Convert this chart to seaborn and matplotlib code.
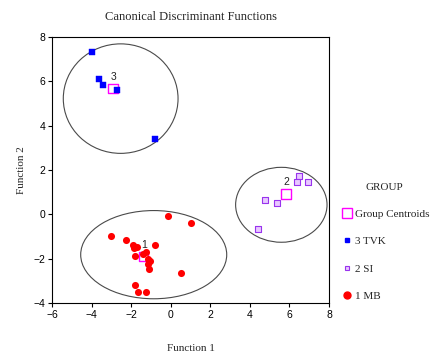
import numpy as np
import pandas as pd
import matplotlib
matplotlib.use("Agg")
import matplotlib.pyplot as plt
import seaborn as sns
from matplotlib.patches import Ellipse
from matplotlib.lines import Line2D

# ---- data ----
mb_x = [-0.13, 1.02, -3.02, -2.25, -1.91, -1.72, -1.85, -0.78, -1.27, -1.39,
        -1.82, -1.14, -1.05, -1.14, -1.09, 0.50, -1.81, -1.66, -1.27]
mb_y = [-0.07, -0.38, -0.96, -1.14, -1.38, -1.46, -1.50, -1.38, -1.68, -1.80,
        -1.86, -2.03, -2.10, -2.25, -2.45, -2.63, -3.20, -3.50, -3.49]
si_x = [6.49, 6.39, 6.93, 4.74, 5.35, 4.39]
si_y = [1.73, 1.45, 1.47, 0.65, 0.50, -0.67]
tvk_x = [-3.96, -3.63, -3.44, -2.72, -0.80]
tvk_y = [7.34, 6.11, 5.85, 5.62, 3.40]

centroid_labels = ["1", "2", "3"]
centroid_x = [-1.39, 5.82, -2.92]
centroid_y = [-1.91, 0.92, 5.67]

# territorial circles (centre x, centre y, width, height in data units)
circle_cx = [-0.86, 5.59, -2.53]
circle_cy = [-1.82, 0.43, 5.22]
circle_w = [7.38, 4.62, 5.80]
circle_h = [3.98, 3.38, 4.94]

x_ticks = [-6, -4, -2, 0, 2, 4, 6, 8]
y_ticks = [-4, -2, 0, 2, 4, 6, 8]

sns.set_theme(style="white")
plt.rcParams['font.family'] = ['Liberation Sans', 'DejaVu Sans']

fig = plt.figure(figsize=(4.32, 3.54), dpi=100)
ax = fig.add_axes([0.1204, 0.1441, 0.6412, 0.7514])

for cx, cy, w, h in zip(circle_cx, circle_cy, circle_w, circle_h):
    ax.add_patch(Ellipse((cx, cy), w, h, fill=False, edgecolor='#4a4a4a', lw=0.8, zorder=1))

cen = pd.DataFrame({"x": centroid_x, "y": centroid_y})
sns.scatterplot(data=cen, x="x", y="y", marker="s", s=45, facecolor="none",
                edgecolor="#ff00ff", linewidth=1.0, ax=ax, zorder=2, legend=False)
for lab, cx, cy in zip(centroid_labels, centroid_x, centroid_y):
    ax.text(cx + 0.05, cy + 0.3, lab, fontsize=7.5, color='#222222', ha='center', va='bottom', zorder=2)

sns.scatterplot(x=tvk_x, y=tvk_y, marker="s", s=14, color="#0000ff", edgecolor="#0000ff",
                linewidth=0.3, ax=ax, zorder=3, legend=False)
sns.scatterplot(x=si_x, y=si_y, marker="s", s=14, facecolor="#e8c8ff", edgecolor="#9933ee",
                linewidth=0.8, ax=ax, zorder=3, legend=False)
sns.scatterplot(x=mb_x, y=mb_y, marker="o", s=26, color="#ff0000", edgecolor="#ff0000",
                linewidth=0, ax=ax, zorder=3, legend=False)

ax.set_xlim(-6, 8)
ax.set_ylim(-4, 8)
ax.set_xticks(x_ticks)
ax.set_yticks(y_ticks)
ax.tick_params(axis='both', direction='out', length=3, width=0.8, labelsize=7.5,
               color='black', labelcolor='black', pad=2, bottom=True, left=True)
for sp in ax.spines.values():
    sp.set_color('black')
    sp.set_linewidth(0.8)

serif = ['Liberation Serif', 'DejaVu Serif']
ax.set_xlabel("Function 1", family=serif, fontsize=8, labelpad=17)
ax.set_ylabel("Function 2", family=serif, fontsize=8, labelpad=5)
ax.set_title("Canonical Discriminant Functions", family=serif, fontsize=9, pad=12)

handles = [
    Line2D([], [], marker='s', ls='', markersize=6.5, markerfacecolor='none',
           markeredgecolor='#ff00ff', markeredgewidth=1.0),
    Line2D([], [], marker='s', ls='', markersize=3.5, color='#0000ff'),
    Line2D([], [], marker='s', ls='', markersize=3.5, markerfacecolor='#e8c8ff',
           markeredgecolor='#9933ee', markeredgewidth=0.8),
    Line2D([], [], marker='o', ls='', markersize=5, color='#ff0000'),
]
labels = ["Group Centroids", "3 TVK", "2 SI", "1 MB"]
leg = fig.legend(handles, labels, title="GROUP", loc='upper left',
                 bbox_to_anchor=(0.775, 0.500), frameon=False,
                 prop={'family': serif, 'size': 8}, title_fontproperties={'family': serif, 'size': 8},
                 labelspacing=1.58, handletextpad=0.1, handlelength=1.2, borderpad=0)

fig.savefig("out.png", dpi=100)
